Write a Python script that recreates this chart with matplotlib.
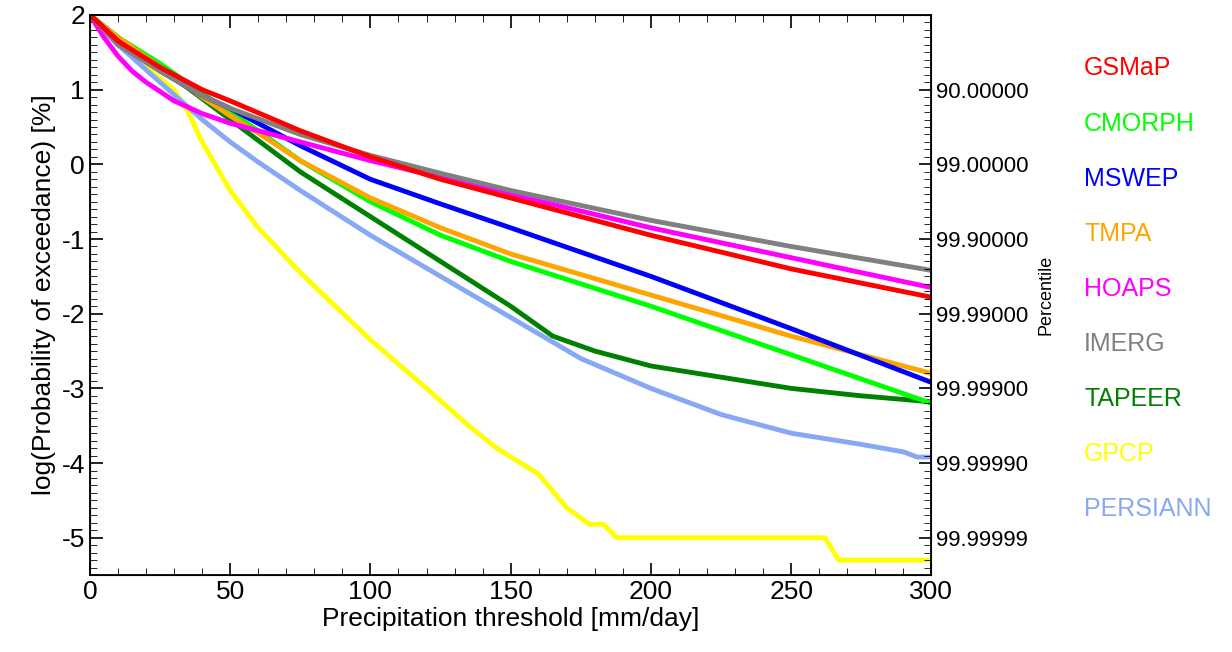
import numpy as np
import matplotlib
matplotlib.use('Agg')
import matplotlib.pyplot as plt
from matplotlib.ticker import MultipleLocator

plt.rcParams['font.family'] = ['Liberation Sans', 'DejaVu Sans']
plt.rcParams['axes.unicode_minus'] = False

names = ['GSMaP', 'CMORPH', 'MSWEP', 'TMPA', 'HOAPS', 'IMERG', 'TAPEER', 'GPCP', 'PERSIANN']
colors = ['#ff0000', '#00ff00', '#0000ff', '#ffa500', '#ff00ff', '#808080', '#008000', '#ffff00', '#87a8f5']

curves = {
    'GSMaP': ([0, 10, 25, 40, 50, 75, 100, 125, 150, 200, 250, 300],
              [2.0, 1.65, 1.3, 1.0, 0.85, 0.45, 0.1, -0.2, -0.45, -0.95, -1.4, -1.78]),
    'IMERG': ([0, 10, 25, 40, 50, 75, 100, 125, 150, 200, 250, 300],
              [2.0, 1.6, 1.25, 0.92, 0.75, 0.4, 0.12, -0.12, -0.35, -0.75, -1.1, -1.42]),
    'HOAPS': ([0, 5, 10, 15, 20, 30, 40, 50, 75, 100, 150, 200, 250, 300],
              [2.0, 1.7, 1.45, 1.25, 1.1, 0.85, 0.68, 0.55, 0.3, 0.05, -0.4, -0.85, -1.25, -1.65]),
    'MSWEP': ([0, 10, 25, 40, 50, 75, 100, 125, 150, 200, 250, 300],
              [2.0, 1.65, 1.25, 0.92, 0.75, 0.25, -0.2, -0.53, -0.85, -1.5, -2.2, -2.92]),
    'TMPA': ([0, 10, 25, 40, 50, 60, 75, 100, 125, 150, 200, 250, 300],
             [2.0, 1.7, 1.3, 0.9, 0.65, 0.42, 0.05, -0.45, -0.85, -1.2, -1.75, -2.3, -2.8]),
    'CMORPH': ([0, 10, 25, 40, 50, 60, 75, 100, 125, 150, 200, 250, 300],
               [2.0, 1.7, 1.35, 0.95, 0.7, 0.45, 0.05, -0.5, -0.95, -1.3, -1.9, -2.55, -3.2]),
    'TAPEER': ([0, 10, 25, 40, 50, 60, 75, 100, 125, 150, 165, 180, 200, 225, 250, 275, 300],
               [2.0, 1.7, 1.3, 0.88, 0.6, 0.32, -0.1, -0.7, -1.3, -1.9, -2.3, -2.5, -2.7, -2.85, -3.0, -3.1, -3.18]),
    'PERSIANN': ([0, 10, 25, 40, 50, 60, 75, 100, 125, 150, 175, 200, 225, 250, 275, 290, 295, 300],
                 [2.0, 1.6, 1.1, 0.6, 0.3, 0.03, -0.35, -0.95, -1.5, -2.05, -2.6, -3.0, -3.35, -3.6, -3.75, -3.85, -3.92, -3.92]),
    'GPCP': ([0, 10, 20, 30, 35, 40, 50, 60, 75, 100, 120, 135, 145, 160, 170, 178, 183, 188, 262, 267, 300],
             [2.0, 1.62, 1.3, 1.0, 0.7, 0.3, -0.35, -0.85, -1.45, -2.35, -3.0, -3.5, -3.8, -4.15, -4.6, -4.82, -4.82, -5.0, -5.0, -5.3, -5.3]),
}
draw_order = ['GPCP', 'PERSIANN', 'TAPEER', 'CMORPH', 'TMPA', 'MSWEP', 'HOAPS', 'IMERG', 'GSMaP']
pct_ticks = [1, 0, -1, -2, -3, -4, -5]
pct_labels = ['90.00000', '99.00000', '99.90000', '99.99000', '99.99900', '99.99990', '99.99999']

fig = plt.figure(figsize=(12.32, 6.52), dpi=100)
ax = fig.add_axes([0.073, 0.118, 0.683, 0.859])
for n in draw_order:
    x, y = curves[n]
    ax.plot(x, y, color=colors[names.index(n)], lw=3.5)
ax.set_xlim(0, 300)
ax.set_ylim(-5.5, 2)
ax.xaxis.set_minor_locator(MultipleLocator(10))
ax.yaxis.set_minor_locator(MultipleLocator(0.1))
ax.tick_params(which='both', direction='in', top=True, labelsize=19)
ax.tick_params(which='major', length=9, width=1.2)
ax.tick_params(which='minor', length=5)
ax.set_xlabel('Precipitation threshold [mm/day]', fontsize=19, labelpad=2)
ax.set_ylabel('log(Probability of exceedance) [%]', fontsize=19)
for s in ax.spines.values():
    s.set_linewidth(1.3)

ax2 = ax.twinx()
ax2.set_ylim(-5.5, 2)
ax2.set_yticks(pct_ticks)
ax2.set_yticklabels(pct_labels)
ax2.yaxis.set_minor_locator(MultipleLocator(0.1))
ax2.tick_params(which='both', direction='in', labelsize=16)
ax2.tick_params(which='major', length=9, width=1.2)
ax2.tick_params(which='minor', length=5)
ax2.set_ylabel('Percentile', fontsize=13, labelpad=6)

for i, n in enumerate(names):
    fig.text(0.88, 0.895 - i * 0.0845, n, color=colors[i], fontsize=18, va='center')

fig.savefig('out.png', dpi=100)
